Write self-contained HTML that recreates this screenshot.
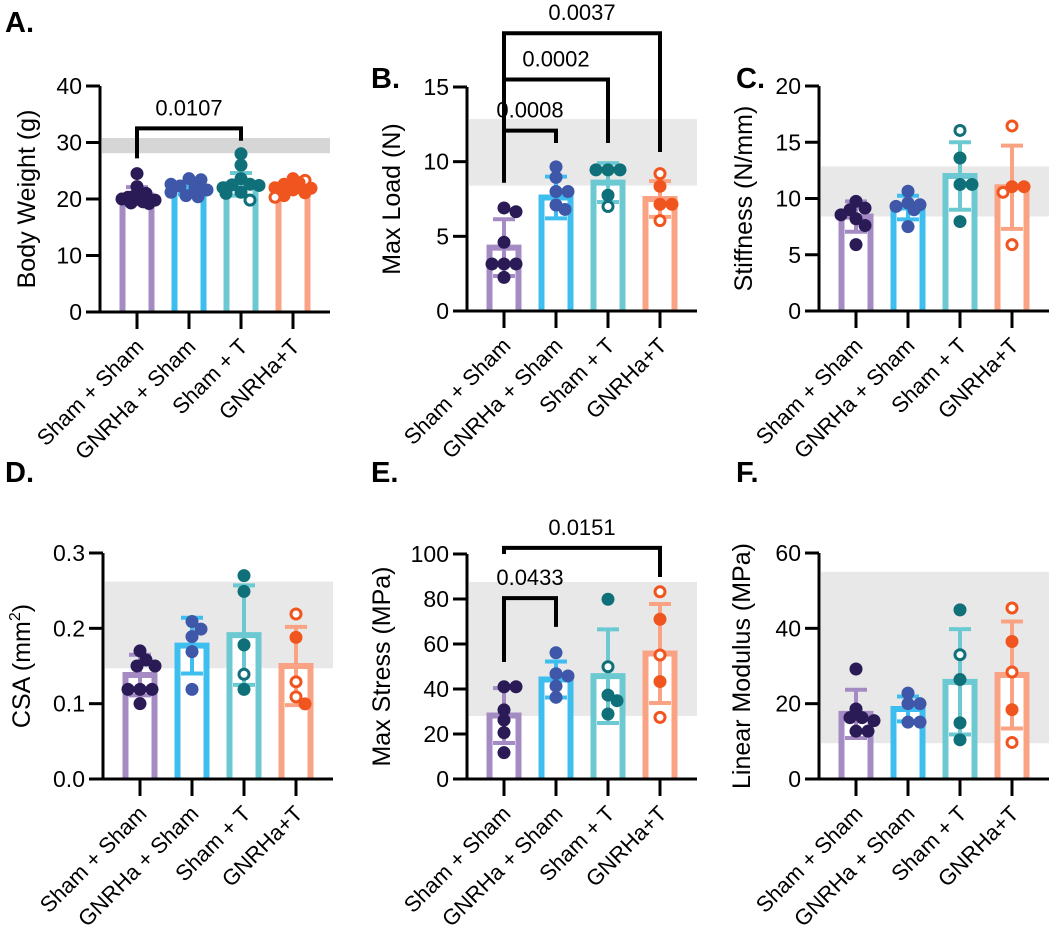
<!DOCTYPE html>
<html><head><meta charset="utf-8"><style>
html,body{margin:0;padding:0;background:#fff;}
svg{display:block;font-family:"Liberation Sans",Arial,sans-serif;}
</style></head>
<body>
<svg id="fig" width="1050" height="929" viewBox="0 0 1050 929"></svg>
<script>
// ---- shared ----
const groups = ["Sham + Sham","GNRHa + Sham","Sham + T","GNRHa+T"];
const barColors = ["#a48bc4","#3ebdef","#6dc9d1","#f9a384"];
const dotColors = ["#2a1b56","#3e57a8","#10707a","#f1551f"];

// ---- Panel A: Body Weight ----
const meansA = [20.6,21.9,22.6,22.2];
const sdA = [1.5,1.1,2.0,1.0];
const ptsA = [[24.5,22.2,21,20.5,20,19.8,19.5,19.3,19.2,20.3],[23.6,23.4,22.3,22,21.6,21.2,20.6,20.4,22.6,21.4],[28,26,23.6,22.6,22.5,22.4,21.2,21,19.8,22],[23.6,23.3,22.6,22,21.6,21.1,20.6,20.3,22.9,21.9]];
const openA = [[],[],[8],[1,7]];
const bandA = [28.1,30.8];
const ticksA = [0,10,20,30,40];
const tickLabelsA = ["0","10","20","30","40"];

// ---- Panel B: Max Load ----
const meansB = [4.24,7.6,8.6,7.5];
const sdB = [1.9,1.4,1.3,1.2];
const ptsB = [[6.9,6.65,4.6,3.15,3.15,3.15,2.25],[9.65,8.95,8.0,8.0,7.1,6.8],[9.45,9.45,9.45,7.75,7.0],[9.2,8.35,7.15,7.15,6.05]];
const openB = [[],[],[4],[0,4]];
const bandB = [8.4,12.85];
const ticksB = [0,5,10,15];
const tickLabelsB = ["0","5","10","15"];

// ---- Panel C: Stiffness ----
const meansC = [8.4,9.2,12.0,11.0];
const sdC = [1.35,1.05,3.0,3.7];
const ptsC = [[9.75,9.15,9.0,8.55,8.2,7.6,5.9],[10.65,9.6,9.45,9.3,9.0,7.5],[16.05,13.6,11.25,11.25,7.95],[16.45,11.05,11.05,10.55,5.9]];
const openC = [[],[],[0],[0,3,4]];
const bandC = [8.4,12.85];
const ticksC = [0,5,10,15,20];
const tickLabelsC = ["0","5","10","15","20"];

// ---- Panel D: CSA ----
const meansD = [0.138,0.177,0.191,0.150];
const sdD = [0.027,0.037,0.066,0.052];
const ptsD = [[0.17,0.158,0.15,0.15,0.119,0.119,0.119,0.10],[0.209,0.199,0.189,0.169,0.119],[0.270,0.249,0.178,0.139,0.119],[0.219,0.188,0.129,0.109,0.0997]];
const openD = [[],[],[3],[0,2,3]];
const bandD = [0.147,0.262];
const ticksD = [0,0.1,0.2,0.3];
const tickLabelsD = ["0.0","0.1","0.2","0.3"];

// ---- Panel E: Max Stress ----
const meansE = [28.2,44.2,45.7,55.8];
const sdE = [12.2,8.0,20.8,22.0];
const ptsE = [[41,41,30.7,26.2,20.6,11.7],[56.1,46.8,45.8,41.3,36.3],[79.9,49.9,37.3,34.8,28.9],[83.2,71.0,55.1,43.3,27.4]];
const openE = [[],[],[1],[0,2,4]];
const bandE = [28,87.6];
const ticksE = [0,20,40,60,80,100];
const tickLabelsE = ["0","20","40","60","80","100"];

// ---- Panel F: Linear Modulus ----
const meansF = [17.3,18.6,25.8,27.6];
const sdF = [6.4,3.3,14.0,14.2];
const ptsF = [[29.2,18.6,16.3,16.3,15.5,12.7,12.7],[22.8,20.0,20.0,15.1,15.1],[44.9,33.0,26.4,14.9,10.4],[45.4,36.5,28.4,18.4,9.7]];
const openF = [[],[],[1],[0,2,4]];
const bandF = [9.5,55];
const ticksF = [0,20,40,60];
const tickLabelsF = ["0","20","40","60"];

// brackets: [fromGroup, toGroup, topValue, leftEndValue, rightEndValue, label]
const bracketsA = [[0,2,32.5,27.2,30.3,"0.0107"]];
const bracketsB = [[0,1,12.08,8.6,11.25,"0.0008"],[0,2,15.5,8.6,11.25,"0.0002"],[0,3,18.6,8.6,10.65,"0.0037"]];
const bracketsE = [[0,1,80.4,52,67.6,"0.0433"],[0,3,102.7,100,89.8,"0.0151"]];

const NS = "http://www.w3.org/2000/svg";
const svg = document.getElementById("fig");
function mk(tag, attrs, parent){
  const e = document.createElementNS(NS, tag);
  for (const k in attrs) e.setAttribute(k, attrs[k]);
  (parent||svg).appendChild(e);
  return e;
}

function panel(cfg){
  const g = mk("g", {});
  
  
  const ax = cfg.axisX, y0 = cfg.y0, yTop = cfg.yTop, maxV = cfg.max;
  const xEnd = ax + 230;
  const yS = v => y0 - (v / maxV) * (y0 - yTop);
  const xS = i => ax + 37 + 52 * i;

  const band = mk("rect", {x: ax + 2, y: yS(cfg.band[1]), width: xEnd - ax - 2, height: yS(cfg.band[0]) - yS(cfg.band[1]), fill: cfg.bandColor}, g);
  
  

  for (let i = 0; i < 4; i++){
    const cx = xS(i), m = cfg.means[i];
    const inner = mk("rect", {x: cx - 14.5, y: yS(m), width: 29, height: y0 - yS(m), fill: "#fff"}, g);
    
    
    const o = mk("path", {d: `M${cx-14.5},${y0} V${yS(m)} H${cx+14.5} V${y0}`, fill: "none", stroke: barColors[i], "stroke-width": 6}, g);
    
    
    const hi = yS(cfg.means[i] + cfg.sd[i]), lo = yS(cfg.means[i] - cfg.sd[i]);
    const eb = mk("path", {d: `M${cx},${lo} V${hi} M${cx-11},${hi} H${cx+11} M${cx-11},${lo} H${cx+11}`, fill: "none", stroke: barColors[i], "stroke-width": 4}, g);
    
    
  }
  const r = 6.5, D = 10, maxOff = 18;
  for (let i = 0; i < 4; i++){
    const cx = xS(i);
    const vals = cfg.pts[i];
    const placed = [];
    vals.forEach((v, j) => {
      const py = yS(v);
      let best = 0, bestScore = -1;
      for (let k = 0; k < 40; k++){
        const cand = (k % 2 ? 1 : -1) * Math.ceil(k / 2) * 3;
        if (Math.abs(cand) > maxOff) break;
        let minD = 1e9;
        for (const p of placed){
          const dx = p[0] - cand, dy = p[1] - py;
          minD = Math.min(minD, Math.sqrt(dx*dx + dy*dy));
        }
        if (minD >= D){ best = cand; bestScore = 1e9; break; }
        if (minD > bestScore){ bestScore = minD; best = cand; }
      }
      placed.push([best, py]);
      const open = cfg.open[i].indexOf(j) >= 0;
      const c = mk("circle", {cx: cx + best, cy: py, r: open ? 5 : r, fill: open ? "#fff" : dotColors[i], stroke: dotColors[i], "stroke-width": open ? 3 : 0}, g);
      
      
    });
  }
  const yAxis = mk("path", {d: `M${ax},${y0+1.5} V${yTop}`, stroke: "#000", "stroke-width": 3, fill: "none"}, g);
  
  
  const xAxis = mk("path", {d: `M${ax-1.5},${y0} H${xEnd}`, stroke: "#000", "stroke-width": 3, fill: "none"}, g);
  
  
  cfg.ticks.forEach((t, k) => {
    const ty = yS(t);
    const tk = mk("path", {d: `M${ax-14},${ty} H${ax}`, stroke: "#000", "stroke-width": 3}, g);
    
    
    const tl = mk("text", {x: ax - 18, y: ty + 8, "text-anchor": "end", "font-size": 23, fill: "#000"}, g);
    tl.textContent = cfg.tickLabels[k];
    
    
  });
  for (let i = 0; i < 4; i++){
    const cx = xS(i);
    const tk = mk("path", {d: `M${cx},${y0} V${y0+17}`, stroke: "#000", "stroke-width": 3}, g);
    
    
    const lx = cx + 8, ly = y0 + 36;
    const lb = mk("text", {x: lx, y: ly, "text-anchor": "end", "font-size": 22, transform: `rotate(-45 ${lx} ${ly})`, fill: "#000"}, g);
    lb.textContent = groups[i];
    
    
  }
  const tx = cfg.titleX, ty = (y0 + yTop) / 2;
  const tt = mk("text", {x: tx, y: ty, "text-anchor": "middle", "font-size": 25, transform: `rotate(-90 ${tx} ${ty})`, fill: "#000"}, g);
  tt.innerHTML = cfg.title;
  
  
  const pl = mk("text", {x: cfg.letterX, y: cfg.letterY, "font-size": 29, "font-weight": "bold", fill: "#000"}, g);
  pl.textContent = cfg.letter;
  
  
  (cfg.brackets || []).forEach(b => {
    const x1 = xS(b[0]), x2 = xS(b[1]);
    const yT = yS(b[2]);
    const p = mk("path", {d: `M${x1},${yS(b[3])} V${yT} H${x2} V${yS(b[4])}`, fill: "none", stroke: "#000", "stroke-width": 4}, g);
    
    
    const t = mk("text", {x: (x1 + x2) / 2, y: yT - 13, "text-anchor": "middle", "font-size": 22, fill: "#000"}, g);
    t.textContent = b[5];
    
    
  });
}

panel({name:"panel-a-body-weight", axisX:100, y0:312, yTop:86, max:40, band:bandA, bandColor:"#d6d6d6", means:meansA, sd:sdA, pts:ptsA, open:openA, ticks:ticksA, tickLabels:tickLabelsA, title:"Body Weight (g)", titleX:35, letter:"A.", letterX:5, letterY:32, brackets:bracketsA});
panel({name:"panel-b-max-load", axisX:467, y0:311, yTop:87, max:15, band:bandB, bandColor:"#e8e8e8", means:meansB, sd:sdB, pts:ptsB, open:openB, ticks:ticksB, tickLabels:tickLabelsB, title:"Max Load (N)", titleX:400, letter:"B.", letterX:371, letterY:88, brackets:bracketsB});
panel({name:"panel-c-stiffness", axisX:819, y0:311, yTop:86, max:20, band:bandC, bandColor:"#e8e8e8", means:meansC, sd:sdC, pts:ptsC, open:openC, ticks:ticksC, tickLabels:tickLabelsC, title:"Stiffness (N/mm)", titleX:752, letter:"C.", letterX:736, letterY:88});
panel({name:"panel-d-csa", axisX:103, y0:779, yTop:553, max:0.3, band:bandD, bandColor:"#e8e8e8", means:meansD, sd:sdD, pts:ptsD, open:openD, ticks:ticksD, tickLabels:tickLabelsD, title:"CSA (mm<tspan font-size='16' dy='-10'>2</tspan><tspan dy='10'>)</tspan>", titleX:30, letter:"D.", letterX:5, letterY:482});
panel({name:"panel-e-max-stress", axisX:467, y0:779, yTop:554, max:100, band:bandE, bandColor:"#e8e8e8", means:meansE, sd:sdE, pts:ptsE, open:openE, ticks:ticksE, tickLabels:tickLabelsE, title:"Max Stress (MPa)", titleX:390, letter:"E.", letterX:371, letterY:482, brackets:bracketsE});
panel({name:"panel-f-linear-modulus", axisX:819, y0:779, yTop:553, max:60, band:bandF, bandColor:"#e8e8e8", means:meansF, sd:sdF, pts:ptsF, open:openF, ticks:ticksF, tickLabels:tickLabelsF, title:"Linear Modulus (MPa)", titleX:750, letter:"F.", letterX:736, letterY:482});
</script>
</body></html>
